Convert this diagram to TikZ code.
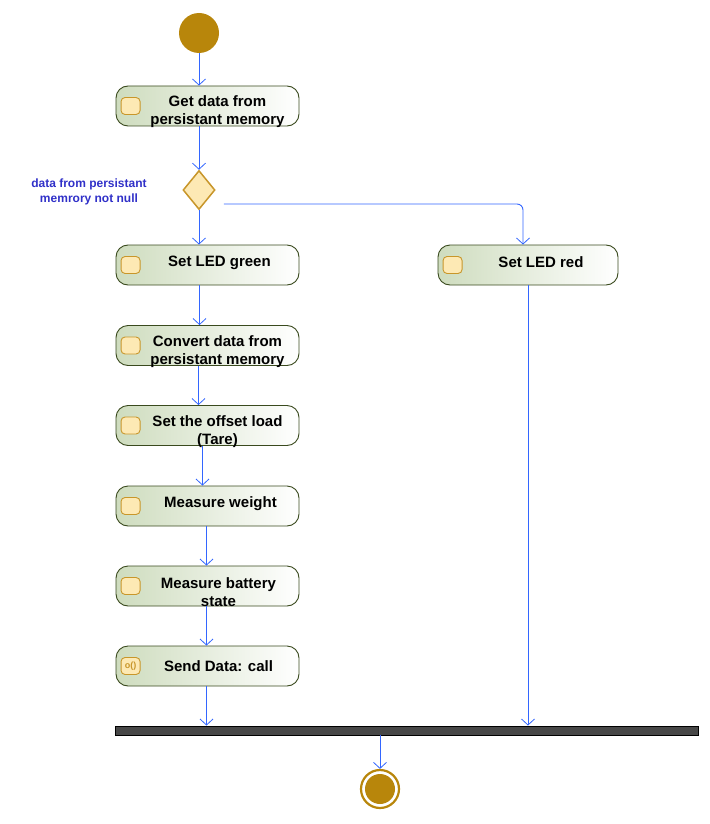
\documentclass[tikz,border=0pt]{standalone}
\usepackage{fontspec}
\setmainfont{Liberation Sans}
\usetikzlibrary{arrows.meta,shapes.geometric}
\definecolor{flowblue}{RGB}{51,102,255}
\definecolor{gold}{RGB}{184,134,11}
\definecolor{boxleft}{RGB}{206,220,190}
\definecolor{boxline}{RGB}{58,74,30}
\definecolor{iconfill}{RGB}{253,233,180}
\definecolor{iconline}{RGB}{200,150,42}
\definecolor{guardblue}{RGB}{48,48,200}
\definecolor{barfill}{RGB}{71,71,71}
\tikzset{
  actbox/.style={rectangle, rounded corners=12pt, minimum width=183pt, minimum height=40pt,
    draw=boxline, line width=0.9pt, left color=boxleft, right color=white, inner sep=0pt},
  acttext/.style={align=center, font=\fontsize{15}{18}\selectfont\bfseries, inner sep=0pt},
  acticon/.style={rectangle, rounded corners=4pt, minimum width=19pt, minimum height=17pt,
    draw=iconline, fill=iconfill, line width=0.9pt, inner sep=0pt},
  flow/.style={draw=flowblue, line width=0.9pt, -{Straight Barb[length=6pt,width=13pt,line width=0.8pt]}},
  guard/.style={align=center, text=guardblue, font=\fontsize{12}{15}\selectfont\bfseries, inner sep=0pt},
}
\begin{document}
\begin{tikzpicture}[x=1pt,y=-1pt]
\useasboundingbox (0,0) rectangle (709,824);

% start and end markers
\node[circle, fill=gold, minimum size=40pt, inner sep=0pt] (start) at (199,33) {};
\node[circle, draw=gold, line width=2.2pt, fill=white, minimum size=38pt, inner sep=0pt] (finish) at (380,789) {};
\node[circle, fill=gold, minimum size=30pt, inner sep=0pt] (finishdot) at (finish.center) {};

% actions
\node[actbox] (get) at (207.5,106) {};
\node[actbox] (green) at (207.5,265) {};
\node[actbox] (conv) at (207.5,345.5) {};
\node[actbox] (tare) at (207.5,425.5) {};
\node[actbox] (weigh) at (207.5,506) {};
\node[actbox] (batt) at (207.5,586) {};
\node[actbox] (send) at (207.5,666) {};
\node[actbox, minimum width=180pt] (red) at (528,265) {};

\foreach \n in {get,green,conv,tare,weigh,batt}{
  \node[acticon] (\n icon) at ([xshift=15pt]\n.west) {};
}
\node[acticon] (redicon) at ([xshift=15pt]red.west) {};
\node[acticon] (sendicon) at ([xshift=15pt]send.west) {};
\node[text=iconline, font=\fontsize{9}{9}\selectfont\bfseries, inner sep=0pt] (sendiconlbl) at (sendicon.center) {o()};

% two-line captions sit a little low, one-line captions a little high
\node[acttext] (gett) at ([shift={(10,6)}]get.center) {Get data from\\persistant memory};
\node[acttext] (greent) at ([shift={(12,-2)}]green.center) {Set LED green};
\node[acttext] (convt) at ([shift={(10,6)}]conv.center) {Convert data from\\persistant memory};
\node[acttext] (taret) at ([shift={(10,6)}]tare.center) {Set the offset load\\(Tare)};
\node[acttext] (weight) at ([shift={(13,-2)}]weigh.center) {Measure weight};
\node[acttext] (battt) at ([shift={(11,6)}]batt.center) {Measure battery\\state};
\node[acttext] (sendt) at ([shift={(11,0)}]send.center) {Send Data: call};
\node[acttext] (redt) at ([shift={(13,-3)}]red.center) {Set LED red};

% decision
\node[diamond, draw=iconline, fill=iconfill, line width=1.5pt, minimum width=32pt, minimum height=39pt, inner sep=0pt] (dec) at (199,190) {};
\node[guard] (decl) at (89,192) {data from persistant\\memrory not null};

% join bar
\node[rectangle, draw=black, fill=barfill, line width=0.9pt, minimum width=583pt, minimum height=9pt, inner sep=0pt] (bar) at (406.5,730.5) {};

% control flow
\coordinate (sendout) at ([xshift=-1pt]send.south);
\coordinate (elsefrom) at ([shift={(8,14)}]dec.east);
\draw[flow] (start) -- (get.north -| start);
\draw[flow] (get.south -| start) -- (dec.north);
\draw[flow] (dec.south) -- (green.north -| dec);
\draw[flow, rounded corners=6pt] (elsefrom) -| ([xshift=-5pt]red.north);
\draw[flow] ([xshift=-8pt]green.south) -- ([xshift=-8pt]conv.north);
\draw[flow] ([xshift=-9pt]conv.south) -- ([xshift=-9pt]tare.north);
\draw[flow] ([xshift=-5pt]tare.south) -- ([xshift=-5pt]weigh.north);
\draw[flow] ([xshift=-1pt]weigh.south) -- ([xshift=-1pt]batt.north);
\draw[flow] ([xshift=-1pt]batt.south) -- ([xshift=-1pt]send.north);
\draw[flow] (sendout) -- (bar.north -| sendout);
\draw[flow] (red.south) -- (bar.north -| red.south);
\draw[flow] (bar.south -| finish) -- (finish.north);
\end{tikzpicture}
\end{document}
